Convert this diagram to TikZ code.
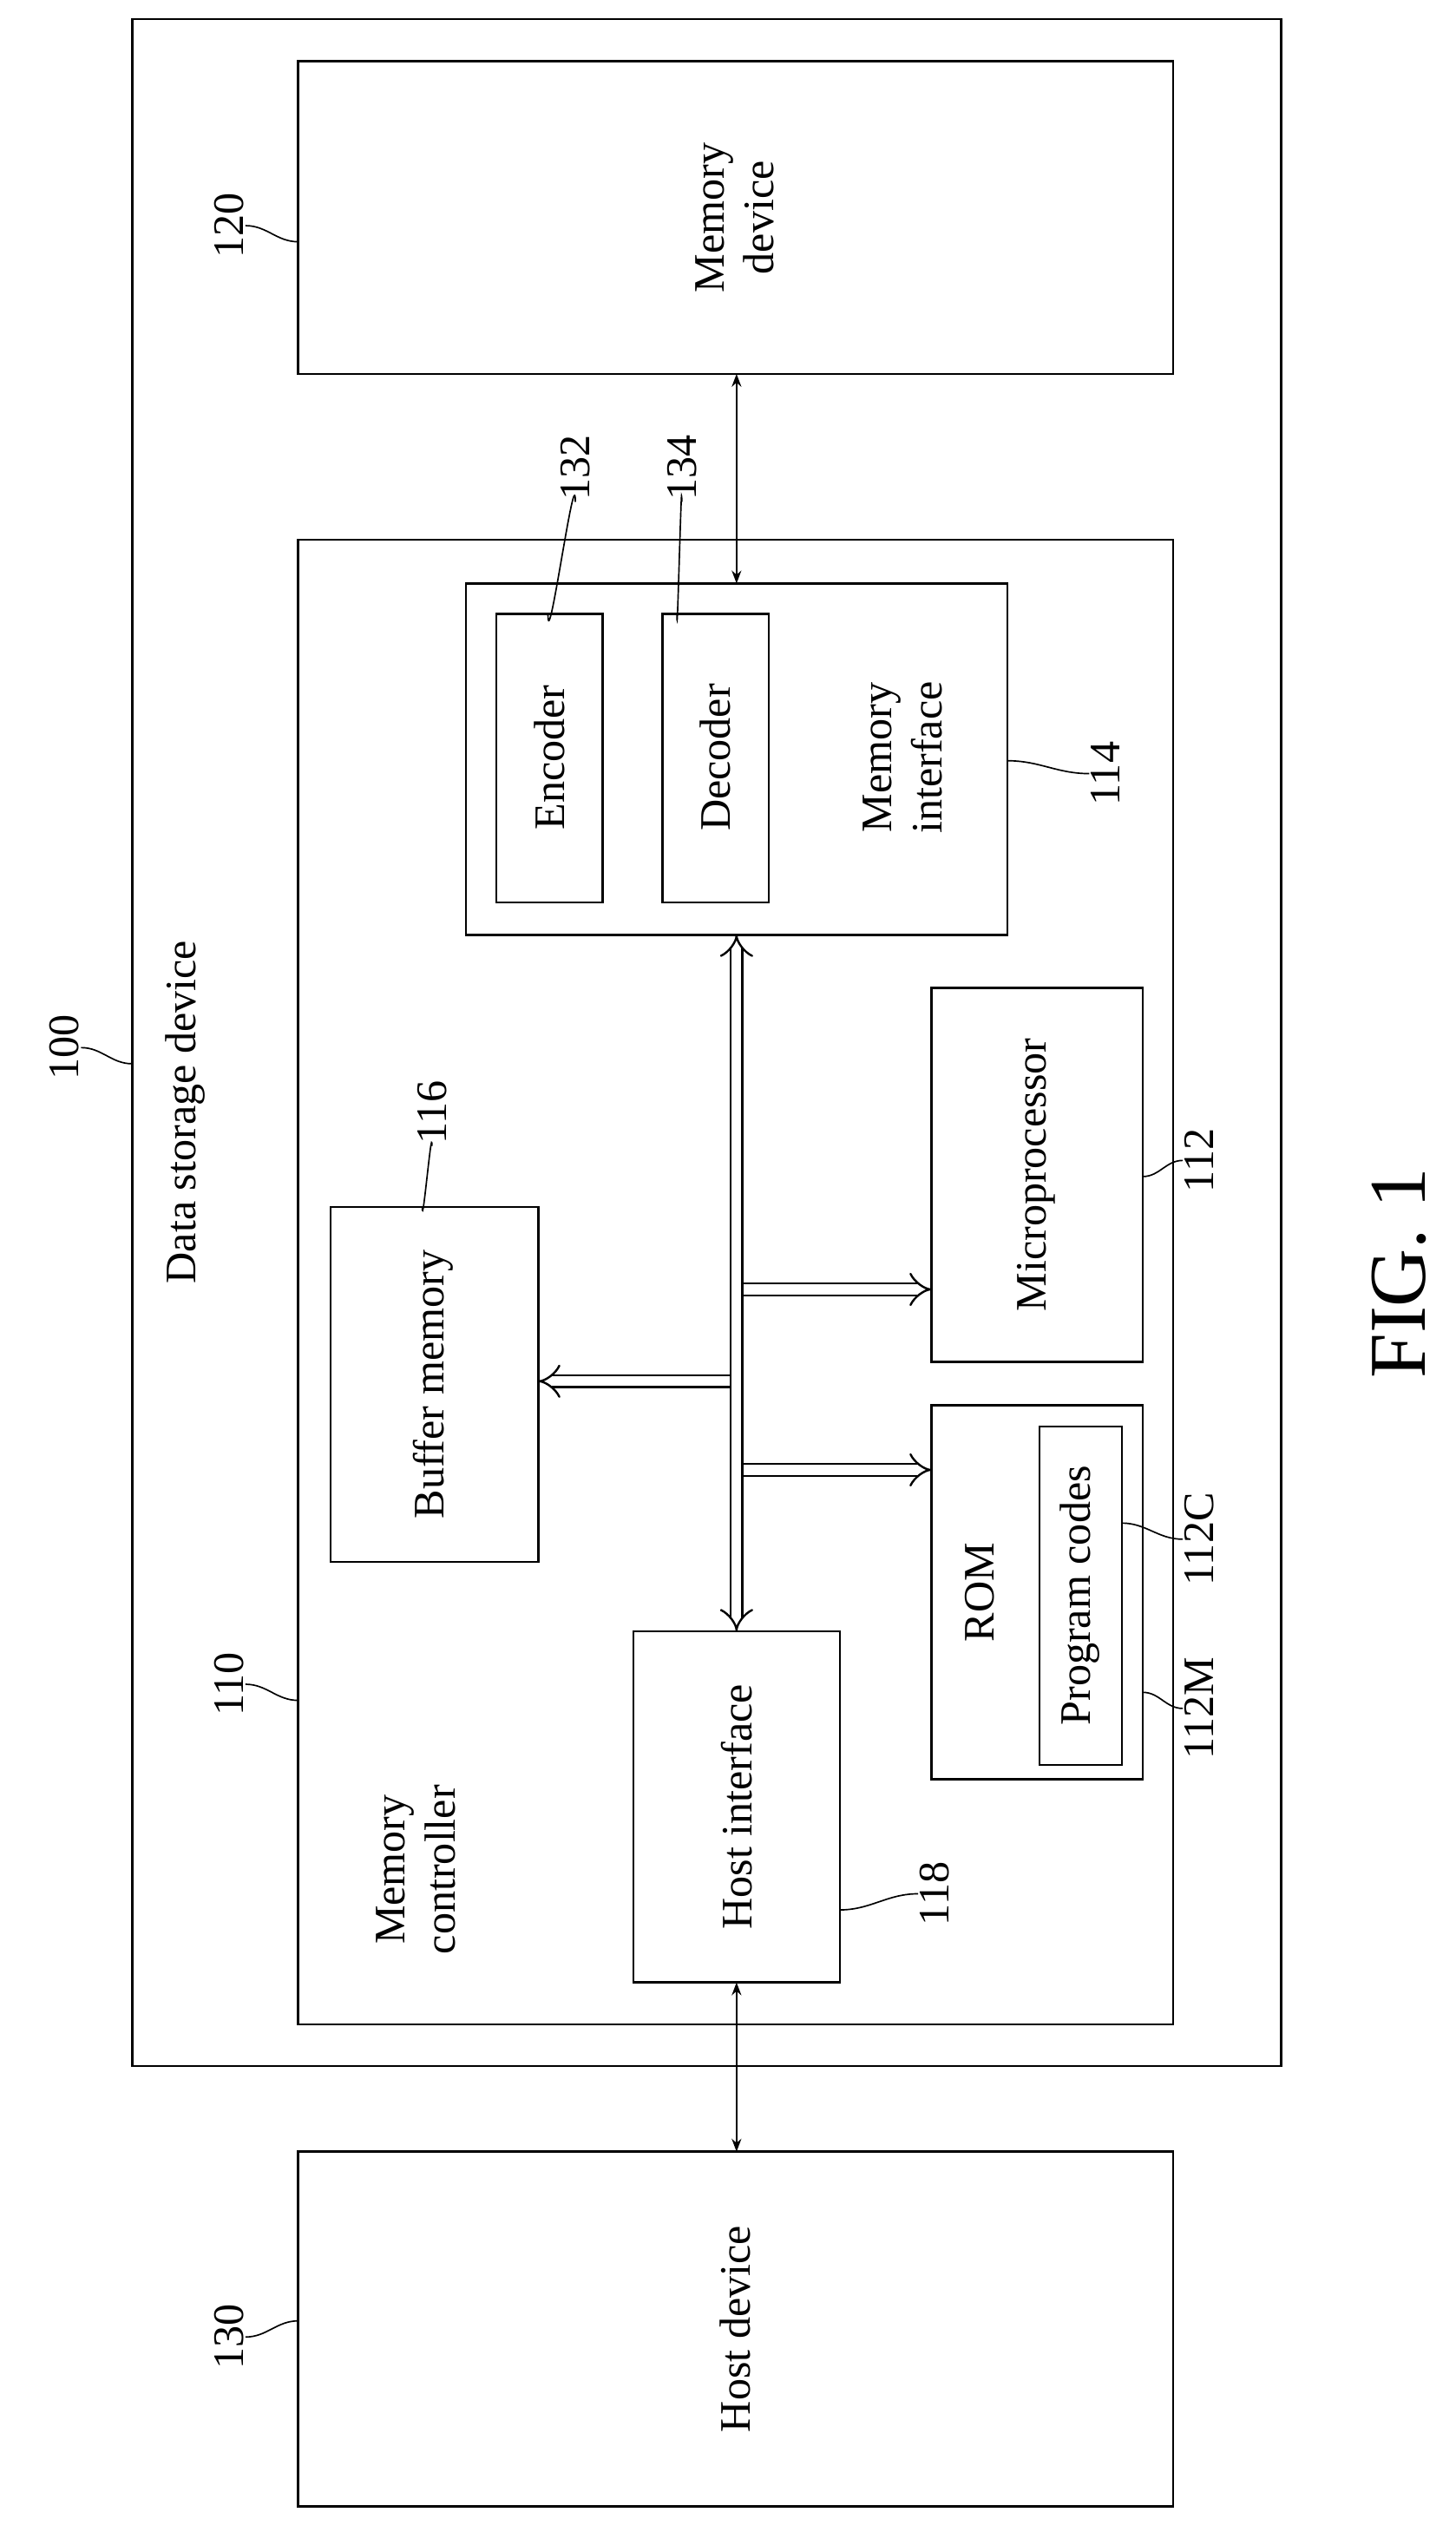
\documentclass[tikz,border=0pt]{standalone}
\usepackage{fontspec}
\setmainfont{Liberation Serif}
\usetikzlibrary{arrows.meta}
\begin{document}
\begin{tikzpicture}[x=1pt,y=-1pt,
  box/.style={draw,line width=1.3pt},
  txt/.style={rotate=90,font=\fontsize{27}{31}\selectfont,align=center},
  lbl/.style={rotate=90,font=\fontsize{27}{31}\selectfont,inner sep=1pt},
  lead/.style={line width=0.9pt},
  bus/.style={double,double distance=6pt,line width=1.3pt,-{Implies[length=8pt]}},
  sarr/.style={line width=0.9pt,{Stealth[length=8pt]}-{Stealth[length=8pt]}}]
\useasboundingbox (0,0) rectangle (903,1571);
\draw[box] (82,12) rectangle (795,1282);
\draw[box] (185,38) rectangle (728,232);
\node[txt] (md) at (456,135) {Memory\\device};
\draw[box] (185,335) rectangle (728,1256);
\draw[box] (289,362) rectangle (625,580);
\draw[box] (308,381) rectangle (374,560);
\node[txt] (enc) at (341,470) {Encoder};
\draw[box] (411,381) rectangle (477,560);
\node[txt] (dec) at (444,470) {Decoder};
\node[txt] (mi) at (560,470) {Memory\\interface};
\draw[box] (578,613) rectangle (709,845);
\node[txt] (mp) at (643,729) {Microprocessor};
\draw[box] (578,872) rectangle (709,1104);
\draw[box] (645,885) rectangle (696,1095);
\node[txt] (rom) at (608,988) {ROM};
\node[txt] (pc) at (670,990) {Program codes};
\draw[box] (205,749) rectangle (334,969);
\node[txt] (bm) at (269,859) {Buffer memory};
\draw[box] (393,1012) rectangle (521,1230);
\node[txt] (hi) at (457,1121) {Host interface};
\node[txt] (mc) at (258,1160) {Memory\\controller};
\draw[box] (185,1335) rectangle (728,1555);
\node[txt] (hd) at (456,1445) {Host device};
\node[txt] (dsd) at (115,690) {Data storage device};
\node[rotate=90,font=\fontsize{50}{56}\selectfont] (fig) at (868,790) {FIG. 1};
% arrows
\coordinate (t1) at (457,232); \coordinate (t2) at (457,362);
\draw[sarr] (t1) -- (t2);
\coordinate (b1) at (457,1230); \coordinate (b2) at (457,1335);
\draw[sarr] (b1) -- (b2);
\coordinate (u1) at (457,580); \coordinate (u2) at (457,1012);
\coordinate (j1) at (457,800); \coordinate (e1) at (578,800);
\coordinate (j2) at (457,912); \coordinate (e2) at (578,912);
\coordinate (j3) at (457,857); \coordinate (e3) at (334,857);
\draw[bus] (j1) -- (e1);
\draw[bus] (j2) -- (e2);
\draw[bus] (j3) -- (e3);
\draw[bus,{Implies[length=8pt]}-{Implies[length=8pt]}] (u1) -- (u2);
% labels
\node[lbl] (l100) at (40,650) {100};
\draw[lead] (l100.south) to[out=0,in=180] (82,660);
\node[lbl] (l120) at (142,140) {120};
\draw[lead] (l120.south) to[out=0,in=180] (185,150);
\node[lbl] (l110) at (142,1045) {110};
\draw[lead] (l110.south) to[out=0,in=180] (185,1055);
\node[lbl] (l130) at (142,1450) {130};
\draw[lead] (l130.south) to[out=0,in=180] (185,1440);
\node[lbl] (l132) at (357,290) {132};
\draw[lead] (l132.west) to[out=90,in=-90] (340,381);
\node[lbl] (l134) at (423,290) {134};
\draw[lead] (l134.west) to[out=90,in=-90] (420,381);
\node[lbl] (l116) at (268,690) {116};
\draw[lead] (l116.west) to[out=90,in=-90] (262,749);
\node[lbl] (l114) at (686,480) {114};
\draw[lead] (625,472) to[out=0,in=180] (l114.north);
\node[lbl] (l112) at (744,720) {112};
\draw[lead] (709,730) to[out=0,in=180] (l112.north);
\node[lbl] (l112c) at (744,955) {112C};
\draw[lead] (696,945) to[out=0,in=180] (l112c.north);
\node[lbl] (l112m) at (744,1060) {112M};
\draw[lead] (709,1050) to[out=0,in=180] (l112m.north);
\node[lbl] (l118) at (580,1175) {118};
\draw[lead] (521,1185) to[out=0,in=180] (l118.north);
\end{tikzpicture}
\end{document}
